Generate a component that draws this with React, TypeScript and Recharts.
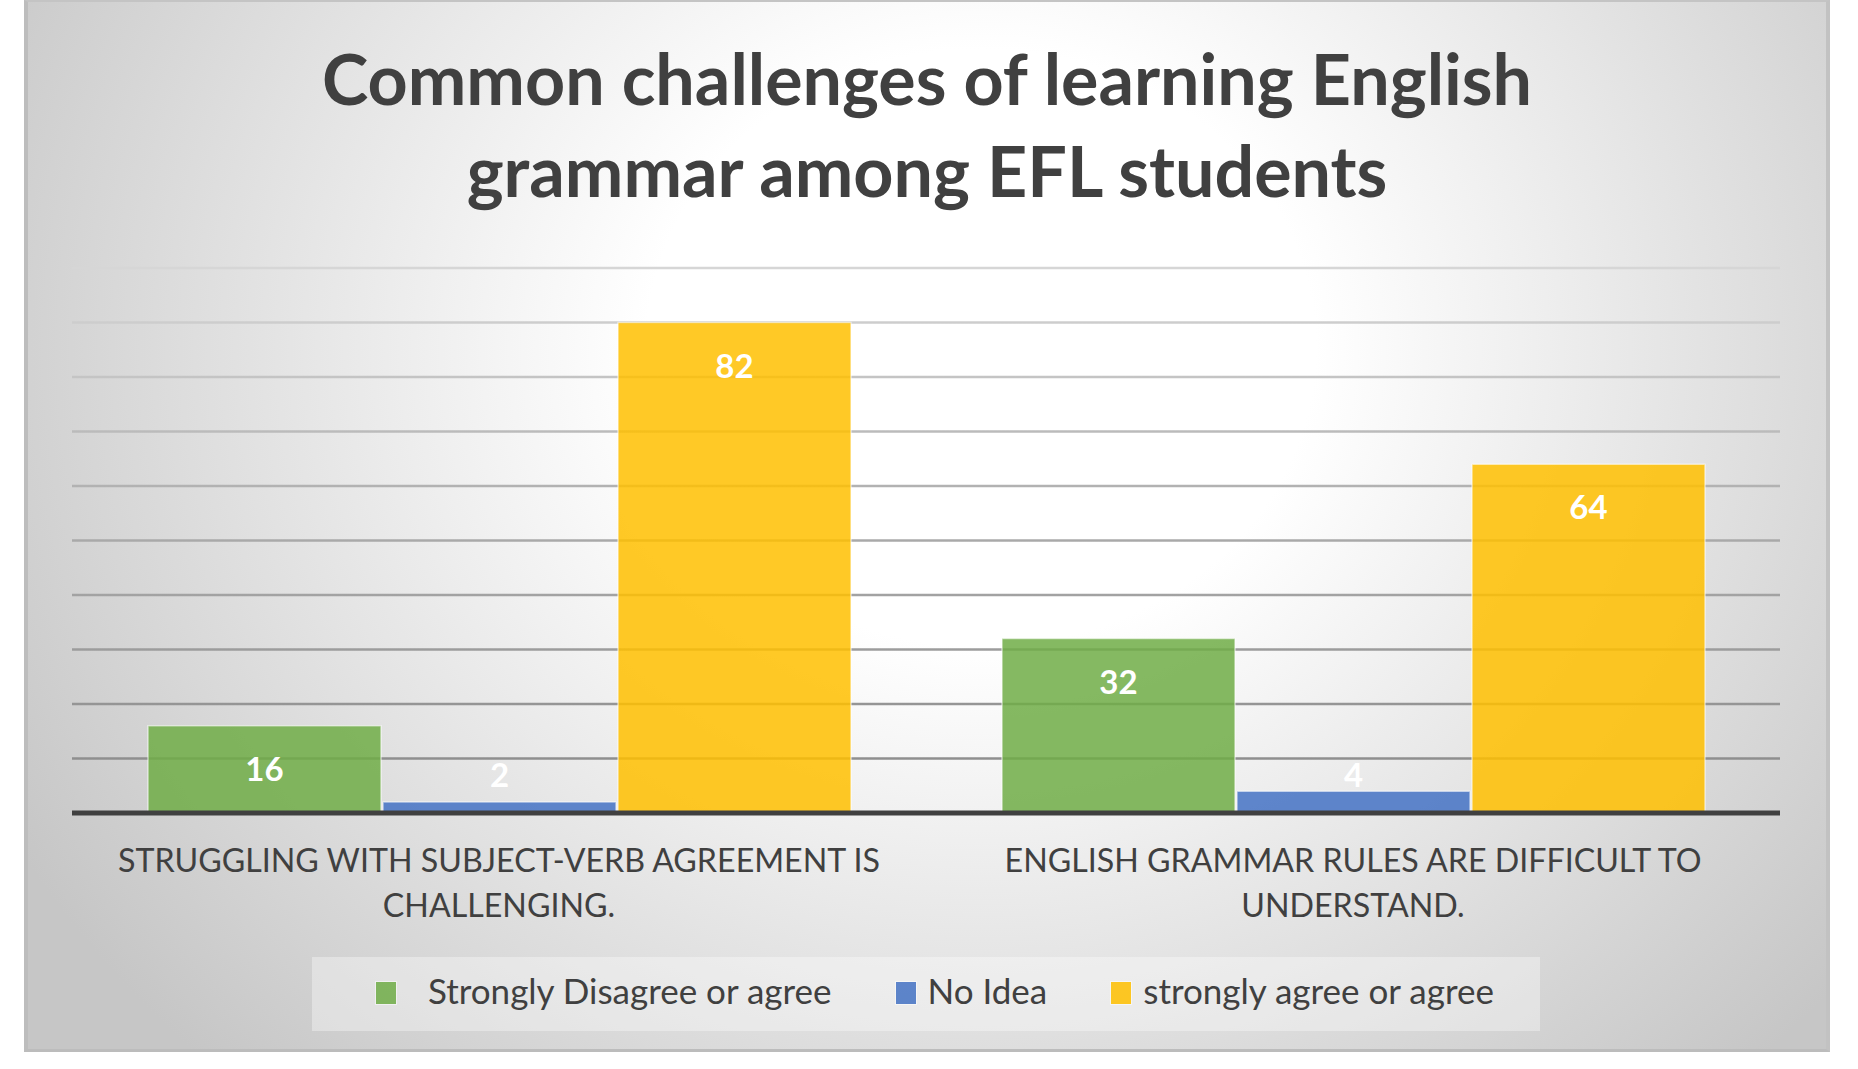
import React from "react";
import { BarChart, Bar, XAxis, YAxis, CartesianGrid, LabelList } from "recharts";

const CATEGORIES = [
  "STRUGGLING WITH SUBJECT-VERB AGREEMENT IS CHALLENGING.",
  "ENGLISH GRAMMAR RULES ARE DIFFICULT TO UNDERSTAND.",
];

const DISAGREE = [16, 32];
const NO_IDEA = [2, 4];
// bar heights as drawn in the source; the printed label on the first bar reads 82
const AGREE = [90, 64];

const DISAGREE_LABELS = ["16", "32"];
const NO_IDEA_LABELS = ["2", "4"];
const AGREE_LABELS = ["82", "64"];

const Y_TICKS = [0, 10, 20, 30, 40, 50, 60, 70, 80, 90, 100];

const SERIES = [
  { key: "disagree", name: "Strongly Disagree or agree", color: "#70AD47", labels: DISAGREE_LABELS },
  { key: "noIdea", name: "No Idea", color: "#4472C4", labels: NO_IDEA_LABELS },
  { key: "agree", name: "strongly agree or agree", color: "#FFC000", labels: AGREE_LABELS },
];

const data = CATEGORIES.map((c, i) => ({
  category: c,
  disagree: DISAGREE[i],
  noIdea: NO_IDEA[i],
  agree: AGREE[i],
}));

const FONT = "Lato, 'Open Sans', sans-serif";
const TEXT = "#404040";

// simple word wrap by character count
function wrap(text: string, max: number) {
  const lines: string[] = [];
  let cur = "";
  for (const w of text.split(" ")) {
    const next = cur ? cur + " " + w : w;
    if (next.length > max && cur) {
      lines.push(cur);
      cur = w;
    } else {
      cur = next;
    }
  }
  if (cur) lines.push(cur);
  return lines;
}

function CategoryTick(props: any) {
  const { x, y, payload } = props;
  const lines = wrap(String(payload.value), 41);
  return (
    <text x={x} y={y} textAnchor="middle" fill={TEXT} fontFamily={FONT} fontSize={32.2}>
      {lines.map((l, i) => (
        <tspan key={i} x={x} dy={i === 0 ? 59 : 45}>
          {l}
        </tspan>
      ))}
    </text>
  );
}

function makeLabel(labels: string[]) {
  return (props: any) => {
    const { x, y, width, height, index } = props;
    const bottom = y + height;
    const cy = Math.min(y + 44, bottom - 37);
    return (
      <text
        x={x + width / 2}
        y={cy}
        dy={11}
        textAnchor="middle"
        fill="#ffffff"
        fontFamily={FONT}
        fontWeight={700}
        fontSize={33}
      >
        {labels[index]}
      </text>
    );
  };
}

export default function App() {
  return (
    <div
      style={{
        position: "absolute",
        left: 0,
        top: 0,
        width: 1858,
        height: 1069,
        background: "#ffffff",
        overflow: "hidden",
      }}
    >
      <div
        style={{
          position: "absolute",
          left: 24,
          top: 0,
          width: 1806,
          height: 1052,
          boxSizing: "border-box",
          borderLeft: "4px solid #bdbdbd",
          borderRight: "4px solid #c2c2c2",
          borderTop: "2px solid #c4c4c4",
          borderBottom: "3px solid #bcbcbc",
          background:
            "radial-gradient(ellipse 62% 95% at 53% 33%, #ffffff 0%, #ffffff 30%, #c6c6c6 100%)",
        }}
      />

      <div
        style={{
          position: "absolute",
          left: 24,
          top: 32,
          width: 1806,
          textAlign: "center",
          fontFamily: FONT,
          fontWeight: 700,
          fontSize: 70,
          lineHeight: "92px",
          color: TEXT,
        }}
      >
        <div>Common challenges of learning English</div>
        <div>grammar among EFL students</div>
      </div>

      <div style={{ position: "absolute", left: 24, top: 0 }}>
        <BarChart
          width={1806}
          height={1052}
          data={data}
          margin={{ top: 268, right: 50, bottom: 119, left: 48 }}
          barCategoryGap={76}
          barGap={2}
        >
          <defs>
            <linearGradient id="gridFade" gradientUnits="userSpaceOnUse" x1="0" y1="268" x2="0" y2="813">
              <stop offset="0%" stopColor="#d6d6d6" />
              <stop offset="50%" stopColor="#a9a9a9" />
              <stop offset="100%" stopColor="#888888" />
            </linearGradient>
          </defs>
          <CartesianGrid vertical={false} stroke="url(#gridFade)" strokeWidth={2.5} />
          <YAxis hide domain={[0, 100]} ticks={Y_TICKS} />
          <XAxis
            dataKey="category"
            height={120}
            axisLine={{ stroke: "#404040", strokeWidth: 5 }}
            tickLine={false}
            tickSize={0}
            tickMargin={0}
            tick={<CategoryTick />}
            interval={0}
          />
          {SERIES.map((s) => (
            <Bar
              key={s.key}
              dataKey={s.key}
              name={s.name}
              fill={s.color}
              fillOpacity={0.85}
              stroke="rgba(255,255,255,0.55)"
              strokeWidth={1.5}
              isAnimationActive={false}
            >
              <LabelList dataKey={s.key} content={makeLabel(s.labels)} />
            </Bar>
          ))}
        </BarChart>
      </div>

      <div
        style={{
          position: "absolute",
          left: 312,
          top: 957,
          width: 1228,
          height: 74,
          background: "rgba(255,255,255,0.35)",
          display: "flex",
          alignItems: "center",
          paddingLeft: 64,
          paddingBottom: 8,
          boxSizing: "border-box",
          fontFamily: FONT,
          fontSize: 35,
          color: TEXT,
          whiteSpace: "nowrap",
        }}
      >
        {SERIES.map((s, i) => (
          <div
            key={s.key}
            style={{ display: "flex", alignItems: "center", flexShrink: 0, marginRight: 64 }}
          >
            <span
              style={{
                display: "inline-block",
                flexShrink: 0,
                width: 20,
                height: 22,
                background: s.color,
                opacity: 0.85,
                boxShadow: "0 0 0 1px rgba(255,255,255,0.6)",
                marginRight: i === 0 ? 32 : 12,
                marginTop: 6,
              }}
            />
            <span>{s.name}</span>
          </div>
        ))}
      </div>
    </div>
  );
}
